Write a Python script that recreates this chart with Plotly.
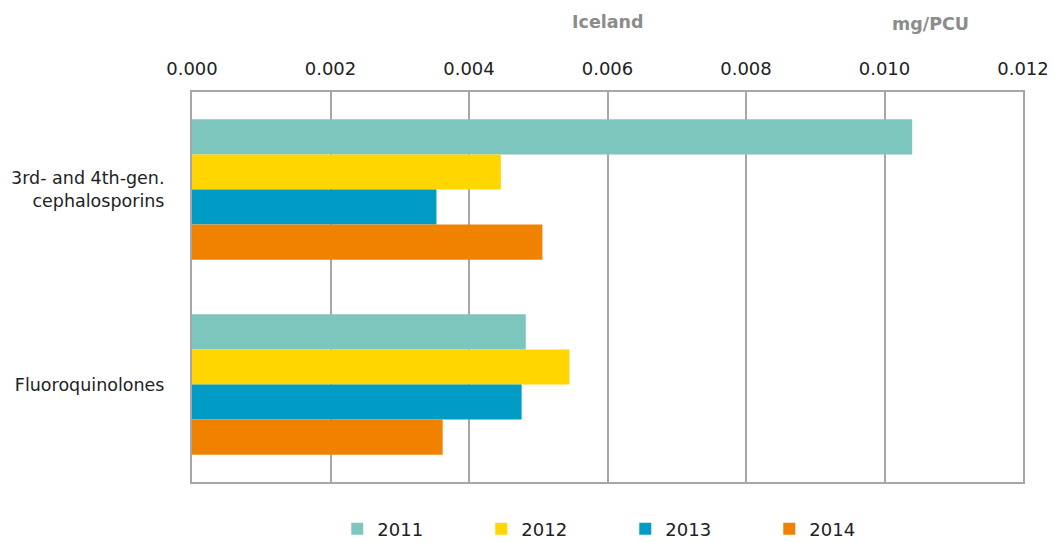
import plotly.graph_objects as go

# Consumption values (mg/PCU) per antimicrobial class and year
categories = ["3rd- and 4th-gen.<br>cephalosporins", "Fluoroquinolones"]
years = ["2011", "2012", "2013", "2014"]
values_2011 = [0.01040, 0.00482]
values_2012 = [0.00446, 0.00545]
values_2013 = [0.00353, 0.00476]
values_2014 = [0.00506, 0.00362]
series = [values_2011, values_2012, values_2013, values_2014]
colors = ["#7dc6bd", "#ffd600", "#009cc6", "#f08200"]

FONT = "DejaVu Sans"
GRID = "#a6a6a6"
PLOT_LEFT, PLOT_RIGHT = 192, 1023
PLOT_TOP, PLOT_BOTTOM = 92, 482

def paper_x(px):
    return (px - PLOT_LEFT) / (PLOT_RIGHT - PLOT_LEFT)

def paper_y(px):
    return (PLOT_BOTTOM - px) / (PLOT_BOTTOM - PLOT_TOP)

fig = go.Figure()
for year, vals, col in zip(years, series, colors):
    fig.add_trace(go.Bar(
        y=categories, x=vals, name=year, orientation="h",
        marker=dict(color=col, line=dict(width=0)),
    ))

fig.update_layout(
    width=1054, height=542,
    margin=dict(l=PLOT_LEFT, r=1054 - PLOT_RIGHT, t=PLOT_TOP,
                b=542 - PLOT_BOTTOM, autoexpand=False),
    paper_bgcolor="white", plot_bgcolor="white",
    barmode="group", bargap=0.28, bargroupgap=0,
    font=dict(family=FONT, size=18, color="#222222"),
    showlegend=True,
    legend=dict(
        orientation="h", xref="container", yref="paper",
        x=0.320, y=paper_y(529), xanchor="left", yanchor="middle",
        entrywidth=99, entrywidthmode="pixels", itemwidth=30,
        font=dict(family=FONT, size=18, color="#222222"),
        traceorder="normal",
    ),
    xaxis=dict(
        side="top", range=[0, 0.012], dtick=0.002, tickformat=".3f",
        showgrid=True, gridcolor=GRID, gridwidth=2,
        showline=True, linecolor=GRID, linewidth=2, mirror=True,
        zeroline=False, ticks="", ticklabelstandoff=8, automargin=False,
        tickfont=dict(family=FONT, size=18, color="#222222"),
    ),
    yaxis=dict(
        autorange="reversed", showgrid=False, zeroline=False,
        showline=True, linecolor=GRID, linewidth=2, mirror=True,
        ticks="", ticklabelstandoff=22, automargin=False,
        tickfont=dict(family=FONT, size=17.5, color="#222222"),
    ),
    annotations=[
        dict(text="<b>Iceland</b>", xref="paper", yref="paper",
             x=paper_x(608), y=paper_y(22), xanchor="center",
             yanchor="middle", showarrow=False,
             font=dict(family=FONT, size=17.5, color="#8c8c8c")),
        dict(text="<b>mg/PCU</b>", xref="paper", yref="paper",
             x=paper_x(930), y=paper_y(24), xanchor="center",
             yanchor="middle", showarrow=False,
             font=dict(family=FONT, size=17.5, color="#8c8c8c")),
    ],
)

fig.write_html("out.html")
